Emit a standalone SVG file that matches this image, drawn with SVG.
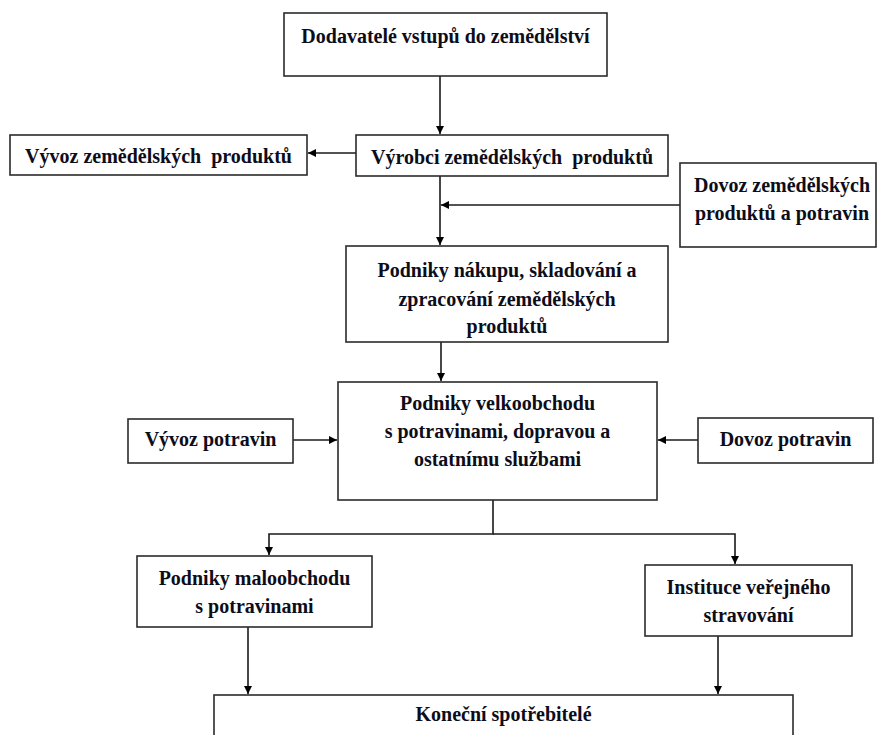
<svg xmlns="http://www.w3.org/2000/svg" width="878" height="735" viewBox="0 0 878 735">
<style>
.box{fill:#fff;stroke:#2b2b2b;stroke-width:1.6}
.t{font-family:'Liberation Serif','DejaVu Serif',serif;font-weight:700;font-size:20px;fill:#0d0d1a;text-anchor:middle}
.c{fill:none;stroke:#1a1a1a;stroke-width:1.6}
</style>
<defs>
<marker id="ah" viewBox="0 0 10 10" refX="10" refY="5" markerWidth="8" markerHeight="8" markerUnits="userSpaceOnUse" orient="auto">
<path d="M0,0 L10,5 L0,10 z" fill="#000"/>
</marker>
</defs>
<rect width="878" height="735" fill="#fff"/>
<g id="connectors">
<line class="c" x1="440" y1="76" x2="440" y2="134" marker-end="url(#ah)"/>
<line class="c" x1="356" y1="153" x2="308" y2="153" marker-end="url(#ah)"/>
<line class="c" x1="440" y1="176" x2="440" y2="245" marker-end="url(#ah)"/>
<line class="c" x1="680" y1="205" x2="441" y2="205" marker-end="url(#ah)"/>
<line class="c" x1="441" y1="342" x2="441" y2="381" marker-end="url(#ah)"/>
<line class="c" x1="293" y1="440" x2="337" y2="440" marker-end="url(#ah)"/>
<line class="c" x1="698" y1="440" x2="658" y2="440" marker-end="url(#ah)"/>
<path class="c" d="M493,500 V534 H269 V555" marker-end="url(#ah)"/>
<path class="c" d="M493,534 H735 V564" marker-end="url(#ah)"/>
<line class="c" x1="248" y1="627" x2="248" y2="694" marker-end="url(#ah)"/>
<line class="c" x1="718" y1="636" x2="718" y2="694" marker-end="url(#ah)"/>
</g>
<g id="dodavatele">
<rect class="box" x="284" y="13" width="323" height="63"/>
<text class="t" x="445.5" y="43">Dodavatelé vstupů do zemědělství</text>
</g>
<g id="vyvoz-zem">
<rect class="box" x="10" y="135" width="297" height="40"/>
<text class="t" x="158.5" y="163">Vývoz zemědělských&#160; produktů</text>
</g>
<g id="vyrobci">
<rect class="box" x="356" y="135" width="312" height="41"/>
<text class="t" x="512" y="164">Výrobci zemědělských&#160; produktů</text>
</g>
<g id="dovoz-zem">
<rect class="box" x="680" y="163" width="196" height="84"/>
<text class="t" x="782" y="192">Dovoz zemědělských</text>
<text class="t" x="782" y="220">produktů a potravin</text>
</g>
<g id="nakup">
<rect class="box" x="346" y="246" width="322" height="96"/>
<text class="t" x="507" y="277">Podniky nákupu, skladování a</text>
<text class="t" x="507" y="306">zpracování zemědělských</text>
<text class="t" x="507" y="333">produktů</text>
</g>
<g id="velkoobchod">
<rect class="box" x="338" y="382" width="319" height="118"/>
<text class="t" x="497.5" y="410">Podniky velkoobchodu</text>
<text class="t" x="497.5" y="438">s potravinami, dopravou a</text>
<text class="t" x="497.5" y="466">ostatnímu službami</text>
</g>
<g id="vyvoz-potravin">
<rect class="box" x="128" y="419" width="165" height="44"/>
<text class="t" x="210.5" y="446">Vývoz potravin</text>
</g>
<g id="dovoz-potravin">
<rect class="box" x="698" y="418" width="175" height="45"/>
<text class="t" x="785.5" y="446">Dovoz potravin</text>
</g>
<g id="maloobchod">
<rect class="box" x="137" y="556" width="235" height="71"/>
<text class="t" x="254.5" y="585">Podniky maloobchodu</text>
<text class="t" x="254.5" y="613">s potravinami</text>
</g>
<g id="instituce">
<rect class="box" x="645" y="565" width="207" height="71"/>
<text class="t" x="748.5" y="594">Instituce veřejného</text>
<text class="t" x="748.5" y="622">stravování</text>
</g>
<g id="konecni">
<rect class="box" x="214" y="695" width="579" height="60"/>
<text class="t" x="503.5" y="721">Koneční spotřebitelé</text>
</g>
</svg>
